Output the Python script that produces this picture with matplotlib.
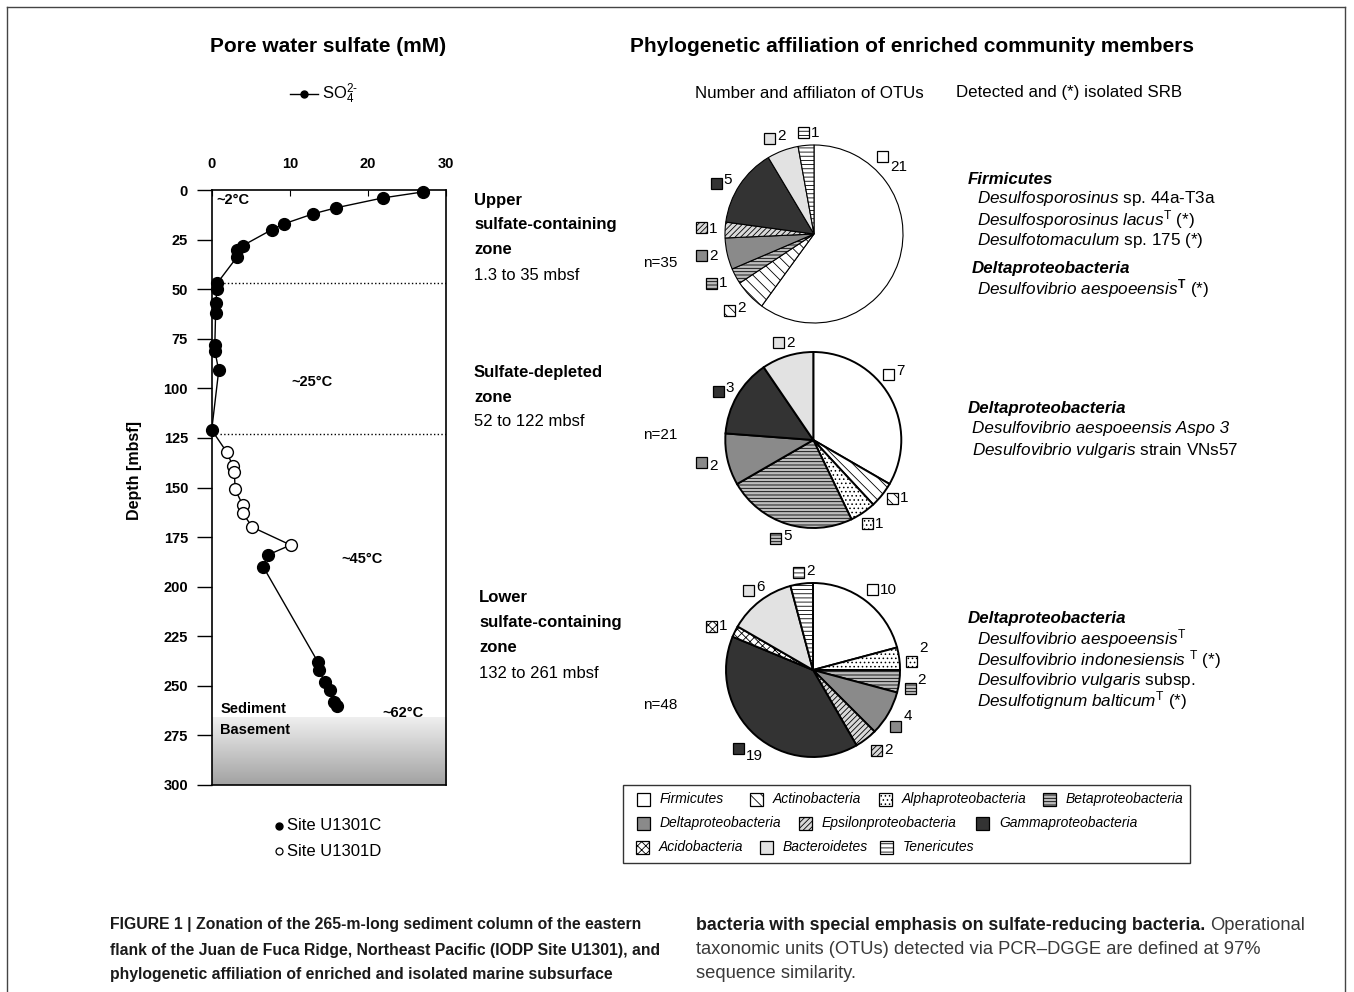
import numpy as np
import matplotlib
matplotlib.use('Agg')
import matplotlib.pyplot as plt
from matplotlib.patches import Rectangle
from matplotlib.colors import LinearSegmentedColormap

plt.rcParams['font.family'] = ['Liberation Sans', 'DejaVu Sans']
plt.rcParams['mathtext.fontset'] = 'custom'
plt.rcParams['mathtext.rm'] = 'Liberation Sans'
plt.rcParams['mathtext.it'] = 'Liberation Sans:italic'
plt.rcParams['mathtext.bf'] = 'Liberation Sans:bold'
plt.rcParams['hatch.linewidth'] = 0.6

# --- pore water sulfate profile (mM vs depth, mbsf)
depth_c = [1, 4, 9, 12, 17, 20, 28, 30, 34, 47, 50, 57, 62, 78, 81, 91, 121,
           184, 190, 238, 242, 248, 252, 258, 260]
so4_c = [27.0, 21.9, 15.9, 13.0, 9.3, 7.7, 4.0, 3.2, 3.2, 0.7, 0.7, 0.5, 0.5,
         0.4, 0.4, 0.9, 0.0, 7.2, 6.6, 13.6, 13.7, 14.5, 15.2, 15.6, 16.1]
depth_d = [132, 139, 142, 151, 159, 163, 170, 179]
so4_d = [1.9, 2.7, 2.9, 3.0, 4.0, 4.0, 5.2, 10.1]
zone_bounds = [47, 123]
basement_top = 266

# --- OTU counts per zone, in legend order
groups = ['Firmicutes', 'Actinobacteria', 'Alphaproteobacteria', 'Betaproteobacteria',
          'Deltaproteobacteria', 'Epsilonproteobacteria', 'Gammaproteobacteria',
          'Acidobacteria', 'Bacteroidetes', 'Tenericutes']
otu_upper = [21, 2, 0, 1, 2, 1, 5, 0, 2, 1]
otu_depleted = [7, 1, 1, 5, 2, 0, 3, 0, 2, 0]
otu_lower = [10, 0, 2, 2, 4, 2, 19, 1, 6, 2]

# fill / hatch per group
g_face = ['white', 'white', 'white', '#bdbdbd', '#8a8a8a', '#d9d9d9', '#333333',
          'white', '#e2e2e2', 'white']
g_hatch = [None, '\\\\\\', '....', '-----', None, '//////', None, 'xxxx', None, '----']

W, H = 1354, 992
fig = plt.figure(figsize=(W / 100, H / 100), dpi=100)


def rect(x0, y0, x1, y1):
    # pixel box (top-left origin) -> figure fraction
    return [x0 / W, 1 - y1 / H, (x1 - x0) / W, (y1 - y0) / H]


# ---------------- left: sulfate profile ----------------
ax = fig.add_axes(rect(211.7, 190, 446, 785))
cmap = LinearSegmentedColormap.from_list('base', ['#efefef', '#a2a2a2'])
ax.imshow(np.linspace(0, 1, 100).reshape(-1, 1), extent=[0, 30, 300, basement_top],
          aspect='auto', cmap=cmap, zorder=0)
for zb in zone_bounds:
    ax.plot([1, 30], [zb, zb], ls=':', color='k', lw=1, zorder=1)

dep_all = np.array(depth_c + depth_d)
so4_all = np.array(so4_c + so4_d)
order = np.argsort(dep_all)
ax.plot(so4_all[order], dep_all[order], color='k', lw=1, zorder=3)
ax.plot(so4_c, depth_c, 'o', ms=8.5, mfc='k', mec='k', clip_on=False, zorder=4)
ax.plot(so4_d, depth_d, 'o', ms=8.5, mfc='white', mec='k', mew=1, clip_on=False, zorder=4)

ax.set_xlim(0, 30)
ax.set_ylim(300, 0)
ax.xaxis.tick_top()
ax.set_xticks([0, 10, 20, 30])
ax.set_yticks(range(0, 301, 25))
ax.tick_params(axis='x', direction='in', length=4, pad=14, labelsize=10.5)
ax.tick_params(axis='y', direction='out', length=11, width=1, pad=6, labelsize=10.5)
for lab in ax.get_xticklabels() + ax.get_yticklabels():
    lab.set_fontweight('bold')
for sp in ax.spines.values():
    sp.set_linewidth(1.2)

tb = dict(fontsize=10.5, fontweight='bold', va='center')
ax.text(0.6, 5, '~2°C', ha='left', **tb)
ax.text(12.9, 97, '~25°C', ha='center', **tb)
ax.text(19.3, 186, '~45°C', ha='center', **tb)
ax.text(24.5, 263.5, '~62°C', ha='center', **tb)
ax.text(1.1, 261.5, 'Sediment', ha='left', **tb)
ax.text(1.1, 272.5, 'Basement', ha='left', **tb)

# ---------------- pies ----------------
pies = [
    (otu_upper, (814, 234), 89, 0.8,
     [(0.767, 0.869), (-0.952, -0.854), (-1.149, -0.554), (-1.262, -0.247),
      (-1.262, 0.075), (-1.101, 0.570), (-0.502, 1.075), (-0.120, 1.138)],
     [-10, 2, 0, 0, -2, 3, 2, 0]),
    (otu_depleted, (813.3, 440), 88, 1.4,
     [(0.852, 0.739), (0.898, -0.670), (0.614, -0.947), (-0.427, -1.117),
      (-1.268, -0.258), (-1.080, 0.549), (-0.398, 1.106)],
     [4, 1, -1, 2, -3, 4, 0]),
    (otu_lower, (813, 670), 87, 1.4,
     [(0.686, 0.920), (1.134, 0.103), (1.115, -0.210), (0.954, -0.644),
      (0.732, -0.928), (-0.859, -0.900), (-1.164, 0.498), (-0.744, 0.911),
      (-0.169, 1.118)],
     [0, 13, 8, 10, 1, -8, 1, 4, 2]),
]

for counts, (cx, cy), r, elw, anchors, shifts in pies:
    idx = [i for i, c in enumerate(counts) if c > 0]
    vals = [counts[i] for i in idx]
    pax = fig.add_axes(rect(cx - 1.6 * r, cy - 1.6 * r, cx + 1.6 * r, cy + 1.6 * r))
    wedges, _ = pax.pie(vals, colors=[g_face[i] for i in idx], startangle=90,
                        counterclock=False, radius=1,
                        wedgeprops=dict(edgecolor='k', linewidth=elw))
    for w, i in zip(wedges, idx):
        if g_hatch[i]:
            w.set_hatch(g_hatch[i])
    pax.set_xlim(-1.6, 1.6)
    pax.set_ylim(-1.6, 1.6)
    pax.axis('off')
    s = 11 / r
    for (ax_, ay_), sh, i, v in zip(anchors, shifts, idx, vals):
        pax.add_patch(Rectangle((ax_ - s / 2, ay_ - s / 2), s, s, facecolor=g_face[i],
                                edgecolor='k', lw=0.9, hatch=g_hatch[i], clip_on=False))
        pax.text(ax_ + s / 2 + 2 / r, ay_ + sh / r, str(v), fontsize=11,
                 ha='left', va='center', clip_on=False)

# ---------------- overlay texts ----------------
ov = fig.add_axes([0, 0, 1, 1], zorder=-1)
ov.set_xlim(0, W)
ov.set_ylim(H, 0)
ov.axis('off')

# frame
ov.plot([7, 1345], [7, 7], color='#444', lw=1)
ov.plot([1345, 1345], [7, H], color='#444', lw=1)
ov.plot([7, 7], [7, H], color='#444', lw=1)

ov.text(328, 47, 'Pore water sulfate (mM)', fontsize=15, fontweight='bold',
        ha='center', va='center')
ov.text(912.5, 47, 'Phylogenetic affiliation of enriched community members',
        fontsize=15, fontweight='bold', ha='center', va='center')
ov.plot([290, 318], [94, 94], color='k', lw=1)
ov.plot([304], [94], 'o', color='k', ms=5)
ov.text(322, 94, r'SO$_4^{2\text{-}}$', fontsize=12, ha='left', va='center')
ov.text(809.5, 93, 'Number and affiliaton of OTUs', fontsize=12.2, ha='center', va='center')
ov.text(1069.5, 93, 'Detected and (*) isolated SRB', fontsize=12.2, ha='center', va='center')

ov.text(135, 470, 'Depth [mbsf]', fontsize=11.5, fontweight='bold', rotation=90,
        ha='center', va='center')

ov.plot([279], [826], 'o', color='k', ms=5)
ov.text(287, 826, 'Site U1301C', fontsize=12, ha='left', va='center')
ov.plot([279], [851], 'o', mfc='white', mec='k', ms=5, mew=0.9)
ov.text(287, 851, 'Site U1301D', fontsize=12, ha='left', va='center')

# zone descriptions
zones = [
    (474, [200, 225, 250, 275], ['Upper', 'sulfate-containing', 'zone', '1.3 to 35 mbsf']),
    (474, [373, 398, 422], ['Sulfate-depleted', 'zone', '52 to 122 mbsf']),
    (479, [598, 623, 648, 673], ['Lower', 'sulfate-containing', 'zone', '132 to 261 mbsf']),
]
for x, ys, lines in zones:
    for k, (y, t) in enumerate(zip(ys, lines)):
        ov.text(x, y, t, fontsize=12, fontweight='normal' if k == len(lines) - 1 else 'bold',
                ha='left', va='center')

for y, t in [(263, 'n=35'), (435, 'n=21'), (705, 'n=48')]:
    ov.text(660, y, t, fontsize=11, ha='center', va='center')

# detected / isolated SRB  (kind: h = bold italic header, i = all italic, m = mixed)
srb = [
    (968, 179, 'Firmicutes', 'h'),
    (977, 199, r'$\mathit{Desulfosporosinus}$ sp. 44a-T3a', 'm'),
    (977, 220, r'$\mathit{Desulfosporosinus\ lacus}^{\mathrm{T}}$ (*)', 'm'),
    (977, 241, r'$\mathit{Desulfotomaculum}$ sp. 175 (*)', 'm'),
    (972, 268, 'Deltaproteobacteria', 'h'),
    (977, 289, r'$\mathit{Desulfovibrio\ aespoeensis}^{\mathbf{T}}$ (*)', 'm'),
    (968, 409, 'Deltaproteobacteria', 'h'),
    (972, 429, 'Desulfovibrio aespoeensis Aspo 3', 'i'),
    (972, 450, r'$\mathit{Desulfovibrio\ vulgaris}$ strain VNs57', 'm'),
    (968, 619, 'Deltaproteobacteria', 'h'),
    (977, 639, r'$\mathit{Desulfovibrio\ aespoeensis}^{\mathrm{T}}$', 'm'),
    (977, 660, r'$\mathit{Desulfovibrio\ indonesiensis}$ $^{\mathrm{T}}$ (*)', 'm'),
    (977, 681, r'$\mathit{Desulfovibrio\ vulgaris}$ subsp.', 'm'),
    (977, 701, r'$\mathit{Desulfotignum\ balticum}^{\mathrm{T}}$ (*)', 'm'),
]
for x, y, t, kind in srb:
    if kind == 'h':
        ov.text(x, y, t, fontsize=12.2, fontweight='bold', style='italic', ha='left', va='center')
    elif kind == 'i':
        ov.text(x, y, t, fontsize=12.3, style='italic', ha='left', va='center')
    else:
        ov.text(x, y, t, fontsize=12.3, ha='left', va='center')

# legend box
lax = fig.add_axes([0, 0, 1, 1])
lax.set_xlim(0, W)
lax.set_ylim(H, 0)
lax.axis('off')
lax.add_patch(Rectangle((623, 785), 567, 78, facecolor='white', edgecolor='#333', lw=1))
leg_pos = [(643, 799), (756, 799), (885, 799), (1049, 799),
           (643, 823), (805, 823), (982, 823),
           (642, 847), (766, 847), (886, 847)]
for (x, y), g, fc, hh in zip(leg_pos, groups, g_face, g_hatch):
    lax.add_patch(Rectangle((x - 6.5, y - 6.5), 13, 13, facecolor=fc, edgecolor='k',
                            lw=0.9, hatch=hh))
    lax.text(x + 17, y, g, fontsize=10, style='italic', ha='left', va='center')

# caption
cap_left = ['FIGURE 1 | Zonation of the 265-m-long sediment column of the eastern',
            'flank of the Juan de Fuca Ridge, Northeast Pacific (IODP Site U1301), and',
            'phylogenetic affiliation of enriched and isolated marine subsurface']
for y, t in zip([925, 950, 974], cap_left):
    ov.text(110, y, t, fontsize=11.3, fontweight='bold', color='#1a1a1a',
            ha='left', va='center')
t1 = ov.text(696, 925, 'bacteria with special emphasis on sulfate-reducing bacteria.',
             fontsize=12.8, fontweight='bold', color='#1a1a1a', ha='left', va='center')
fig.canvas.draw()
bb = t1.get_window_extent()
ov.text(696 + bb.width + 5, 925, 'Operational', fontsize=13.2, color='#3a3a3a',
        ha='left', va='center')
ov.text(696, 950, 'taxonomic units (OTUs) detected via PCR–DGGE are defined at 97%',
        fontsize=13.2, color='#3a3a3a', ha='left', va='center')
ov.text(696, 974, 'sequence similarity.', fontsize=13.2, color='#3a3a3a',
        ha='left', va='center')

fig.savefig('out.png', dpi=100)
